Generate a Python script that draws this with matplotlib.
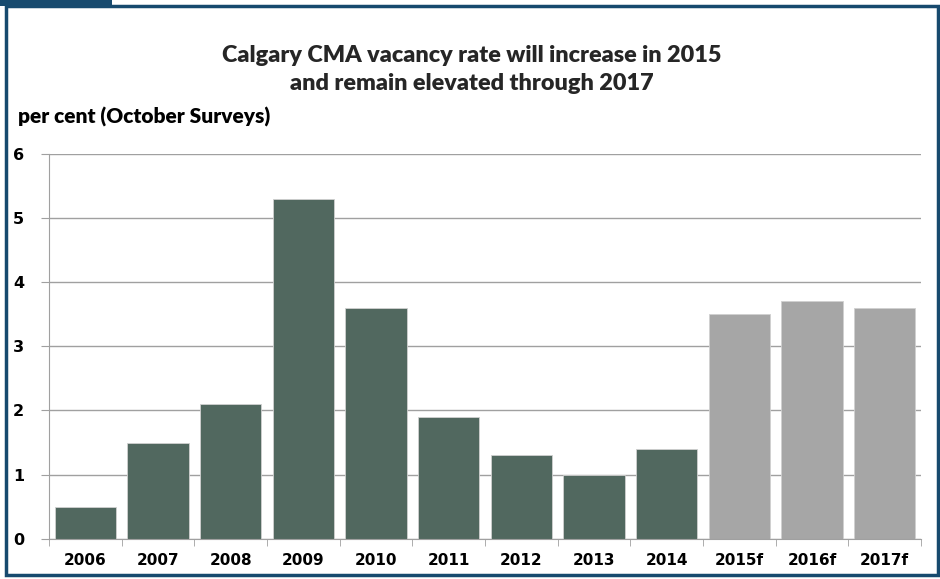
import matplotlib.pyplot as plt
from matplotlib.patches import Rectangle
from matplotlib.ticker import FixedLocator

# vacancy rate, per cent (October surveys)
years = ['2006', '2007', '2008', '2009', '2010', '2011', '2012', '2013', '2014',
         '2015f', '2016f', '2017f']
rates = [0.5, 1.5, 2.1, 5.3, 3.6, 1.9, 1.3, 1.0, 1.4, 3.5, 3.7, 3.6]
forecast = [False] * 9 + [True] * 3

dark = '#51685f'
light = '#a6a6a6'
navy = '#174a6e'

plt.rcParams['font.family'] = ['Lato', 'DejaVu Sans']

fig = plt.figure(figsize=(9.4, 5.79), dpi=100)
ax = fig.add_axes([49 / 940, 1 - 538.7 / 579, 872 / 940, (538.7 - 154) / 579])

colors = [light if f else dark for f in forecast]
x = list(range(len(years)))
ax.bar(x, rates, width=0.84, color=colors, edgecolor='#d0d0d0', linewidth=0.6, zorder=2)

ax.set_xlim(-0.5, len(years) - 0.5)
ax.set_ylim(0, 6)
ax.set_yticks(range(7))
ax.set_yticklabels(['0', '1', '2', '3', '4', '5', '6'], fontsize=11.5,
                   fontweight='bold', family='DejaVu Sans')
ax.yaxis.grid(True, color='#a0a0a0', linewidth=1, zorder=0)
ax.tick_params(axis='y', length=6, color='#a0a0a0', pad=12)

ax.set_xticks(x)
ax.set_xticklabels(years, fontsize=11, fontweight='bold', family='DejaVu Sans')
ax.xaxis.set_minor_locator(FixedLocator([i - 0.5 for i in range(len(years) + 1)]))
ax.tick_params(axis='x', which='major', length=0, pad=10)
ax.tick_params(axis='x', which='minor', length=5, color='#a0a0a0')

for side in ['top', 'right']:
    ax.spines[side].set_visible(False)
ax.spines['left'].set_color('#a0a0a0')
ax.spines['bottom'].set_color('#a0a0a0')

fig.text(472 / 940, 1 - 55 / 579, 'Calgary CMA vacancy rate will increase in 2015',
         ha='center', va='center', fontsize=16.8, fontweight='heavy', color='#262626')
fig.text(472 / 940, 1 - 84 / 579, 'and remain elevated through 2017',
         ha='center', va='center', fontsize=16.8, fontweight='heavy', color='#262626')
fig.text(18 / 940, 1 - 117 / 579, 'per cent (October Surveys)',
         ha='left', va='center', fontsize=15, fontweight='heavy', color='black')

# frame around the chart and the little tab at the top left
fig.add_artist(Rectangle((5.5 / 940, 4 / 579), 932 / 940, 569 / 579,
                         transform=fig.transFigure, fill=False, edgecolor=navy, linewidth=2.5))
fig.add_artist(Rectangle((0, 1 - 6 / 579), 112 / 940, 6 / 579,
                         transform=fig.transFigure, color=navy, linewidth=0))

fig.savefig('out.png', dpi=100)
